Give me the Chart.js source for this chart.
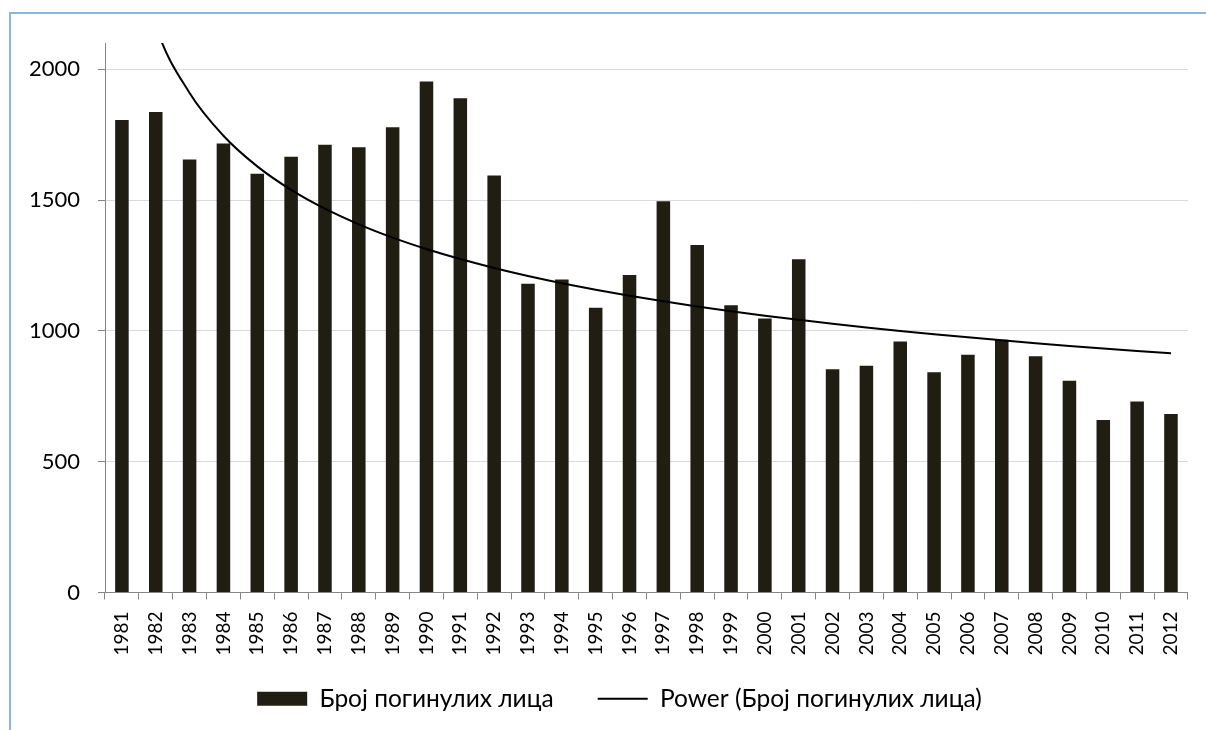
<!DOCTYPE html>
<html>
<head>
<meta charset="utf-8">
<script src="https://cdn.jsdelivr.net/npm/chart.js@4.4.0/dist/chart.umd.min.js"></script>
<style>
  html, body { margin: 0; padding: 0; background: #fff; }
  #wrap { width: 1206px; height: 730px; }
</style>
</head>
<body>
<div id="wrap"><canvas id="chart"></canvas></div>
<script>
// years and number of killed persons
const years = ['1981','1982','1983','1984','1985','1986','1987','1988','1989','1990','1991','1992',
  '1993','1994','1995','1996','1997','1998','1999','2000','2001','2002','2003','2004','2005','2006',
  '2007','2008','2009','2010','2011','2012'];
const killed = [1806, 1836, 1655, 1716, 1600, 1665, 1711, 1702, 1778, 1953, 1889, 1594,
  1180, 1196, 1088, 1213, 1495, 1328, 1098, 1047, 1274, 853, 867, 959, 842, 909,
  966, 903, 809, 659, 730, 682];
const yTicks = [0, 500, 1000, 1500, 2000];

const barLabel = 'Број погинулих лица';
const trendLabel = 'Power (Број погинулих лица)';

// power trendline y = a * x^b, least squares on logs (as Excel does)
function powerFit(vals) {
  let sx = 0, sy = 0, sxx = 0, sxy = 0;
  const n = vals.length;
  vals.forEach((v, i) => {
    const lx = Math.log(i + 1), ly = Math.log(v);
    sx += lx; sy += ly; sxx += lx * lx; sxy += lx * ly;
  });
  const b = (n * sxy - sx * sy) / (n * sxx - sx * sx);
  const a = Math.exp((sy - b * sx) / n);
  return vals.map((v, i) => a * Math.pow(i + 1, b));
}
const trend = powerFit(killed);

const font = 'Lato, "Noto Sans", sans-serif';

// light blue frame round the chart
const frame = {
  id: 'frame',
  beforeDraw(chart) {
    const ctx = chart.ctx;
    ctx.save();
    ctx.strokeStyle = '#8eb4e3';
    ctx.lineWidth = 2;
    ctx.beginPath();
    ctx.moveTo(10, 730);
    ctx.lineTo(10, 13);
    ctx.lineTo(1206, 13);
    ctx.stroke();
    ctx.restore();
  }
};

// legend item spacing is wide, so pull the legend box up a bit (and a bit right)
const legendShift = {
  id: 'legendShift',
  afterLayout(chart) {
    chart.legend.top -= 16;
    chart.legend.bottom -= 16;
    chart.legend.left += 24;
    chart.legend.right += 24;
  }
};

const ctx = document.getElementById('chart').getContext('2d');
new Chart(ctx, {
  data: {
    labels: years,
    datasets: [
      {
        type: 'line',
        label: trendLabel,
        data: trend,
        borderColor: '#000',
        backgroundColor: '#000',
        borderWidth: 2,
        pointRadius: 0,
        cubicInterpolationMode: 'monotone',
        pointStyle: 'line',
        order: 0
      },
      {
        type: 'bar',
        label: barLabel,
        data: killed,
        backgroundColor: '#201e12',
        borderWidth: 0,
        barPercentage: 0.4,
        categoryPercentage: 1,
        pointStyle: 'rect',
        order: 1
      }
    ]
  },
  options: {
    responsive: true,
    maintainAspectRatio: false,
    animation: false,
    layout: { padding: { left: 0, top: 43, right: 15, bottom: -7 } },
    scales: {
      x: {
        grid: {
          offset: true,
          drawOnChartArea: false,
          color: '#868686',
          tickLength: 7
        },
        border: { color: '#868686', width: 1 },
        ticks: {
          autoSkip: false,
          maxRotation: 90,
          minRotation: 90,
          padding: 12,
          color: '#000',
          font: { family: font, size: 19 }
        },
        afterFit: s => { s.height = 66; }
      },
      y: {
        min: 0,
        max: 2100,
        afterBuildTicks: axis => {
          axis.ticks = yTicks.map(v => ({ value: v }));
        },
        grid: {
          color: '#d9d9d9',
          tickColor: '#868686',
          tickLength: 7
        },
        border: { color: '#868686', width: 1 },
        ticks: {
          padding: 18,
          color: '#000',
          font: { family: font, size: 22 },
          callback: v => String(v)
        },
        afterFit: s => { s.width = 105; }
      }
    },
    plugins: {
      legend: {
        position: 'bottom',
        reverse: true,
        labels: {
          usePointStyle: true,
          pointStyleWidth: 50,
          boxHeight: 14,
          padding: 44,
          color: '#000',
          font: { family: font, size: 24.5 }
        }
      },
      tooltip: { enabled: false }
    }
  },
  plugins: [frame, legendShift]
});
</script>
</body>
</html>
